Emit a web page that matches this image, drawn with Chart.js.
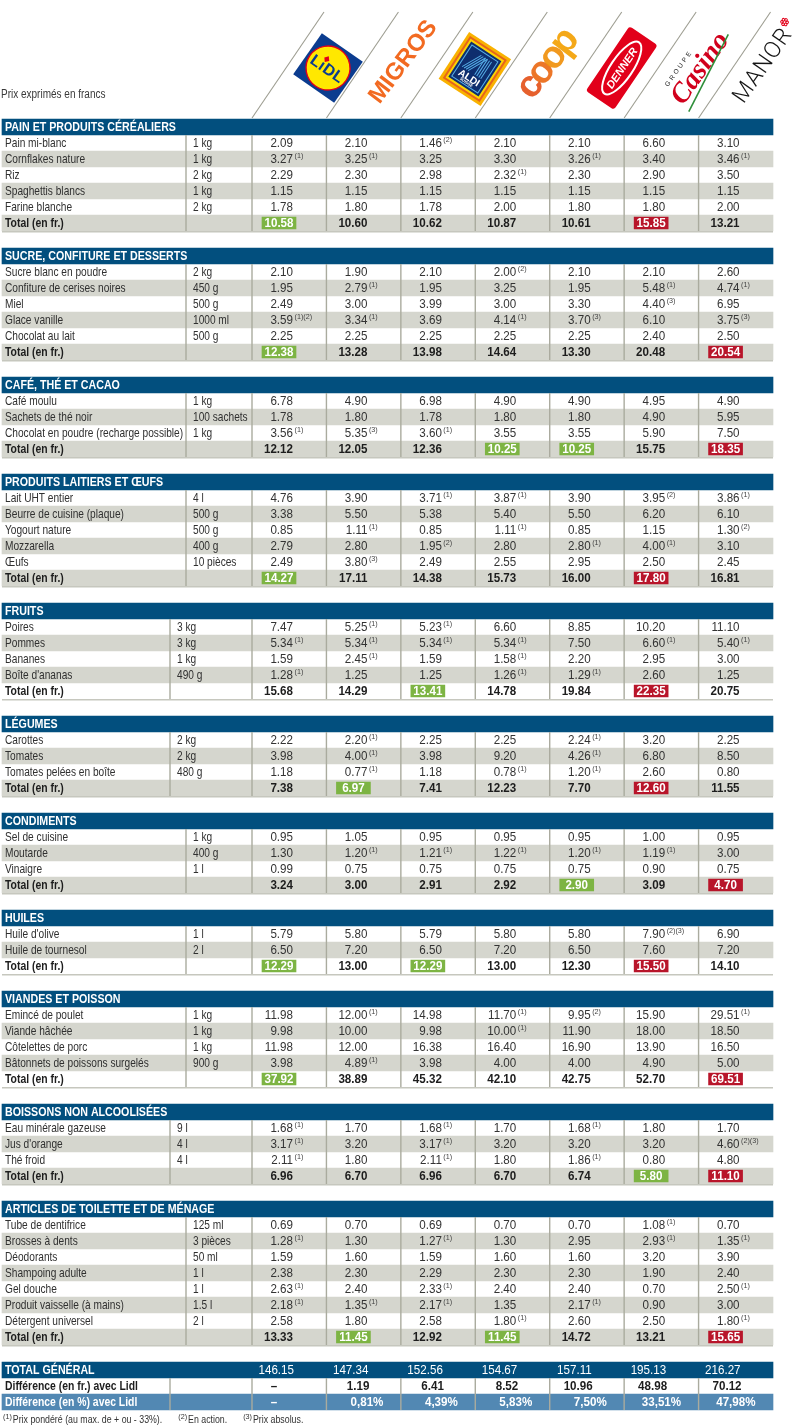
<!DOCTYPE html>
<html lang="fr">
<head>
<meta charset="utf-8">
<title>Comparatif des prix</title>
<script src="https://cdn.jsdelivr.net/npm/chart.js@4.4.1/dist/chart.umd.min.js"></script>
<style>
  html, body { margin: 0; padding: 0; background: #fff; }
  canvas { display: block; }
</style>
</head>
<body>
<canvas id="tableau" width="811" height="1427"></canvas>
<script>
// ---- données ----
const stores = ['Lidl', 'Migros', 'Aldi', 'Coop', 'Denner', 'Casino', 'Manor'];

const painItems = ['Pain mi-blanc', 'Cornflakes nature', 'Riz', 'Spaghettis blancs', 'Farine blanche'];
const painUnits = ['1 kg', '1 kg', '2 kg', '1 kg', '2 kg'];
const painPrices = [
  [2.09, 2.10, 1.46, 2.10, 2.10, 6.60, 3.10],
  [3.27, 3.25, 3.25, 3.30, 3.26, 3.40, 3.46],
  [2.29, 2.30, 2.98, 2.32, 2.30, 2.90, 3.50],
  [1.15, 1.15, 1.15, 1.15, 1.15, 1.15, 1.15],
  [1.78, 1.80, 1.78, 2.00, 1.80, 1.80, 2.00]
];
const painNotes = [
  [0, 0, 2, 0, 0, 0, 0],
  [1, 1, 0, 0, 1, 0, 1],
  [0, 0, 0, 1, 0, 0, 0],
  [0, 0, 0, 0, 0, 0, 0],
  [0, 0, 0, 0, 0, 0, 0]
];
const painTotals = [10.58, 10.60, 10.62, 10.87, 10.61, 15.85, 13.21];

const sucreItems = ['Sucre blanc en poudre', 'Confiture de cerises noires', 'Miel', 'Glace vanille', 'Chocolat au lait'];
const sucreUnits = ['2 kg', '450 g', '500 g', '1000 ml', '500 g'];
const sucrePrices = [
  [2.10, 1.90, 2.10, 2.00, 2.10, 2.10, 2.60],
  [1.95, 2.79, 1.95, 3.25, 1.95, 5.48, 4.74],
  [2.49, 3.00, 3.99, 3.00, 3.30, 4.40, 6.95],
  [3.59, 3.34, 3.69, 4.14, 3.70, 6.10, 3.75],
  [2.25, 2.25, 2.25, 2.25, 2.25, 2.40, 2.50]
];
const sucreNotes = [
  [0, 0, 0, 2, 0, 0, 0],
  [0, 1, 0, 0, 0, 1, 1],
  [0, 0, 0, 0, 0, 3, 0],
  [12, 1, 0, 1, 3, 0, 3],
  [0, 0, 0, 0, 0, 0, 0]
];
const sucreTotals = [12.38, 13.28, 13.98, 14.64, 13.30, 20.48, 20.54];

const cafeItems = ['Café moulu', 'Sachets de thé noir', 'Chocolat en poudre (recharge possible)'];
const cafeUnits = ['1 kg', '100 sachets', '1 kg'];
const cafePrices = [
  [6.78, 4.90, 6.98, 4.90, 4.90, 4.95, 4.90],
  [1.78, 1.80, 1.78, 1.80, 1.80, 4.90, 5.95],
  [3.56, 5.35, 3.60, 3.55, 3.55, 5.90, 7.50]
];
const cafeNotes = [
  [0, 0, 0, 0, 0, 0, 0],
  [0, 0, 0, 0, 0, 0, 0],
  [1, 3, 1, 0, 0, 0, 0]
];
const cafeTotals = [12.12, 12.05, 12.36, 10.25, 10.25, 15.75, 18.35];

const laitItems = ['Lait UHT entier', 'Beurre de cuisine (plaque)', 'Yogourt nature', 'Mozzarella', 'Œufs'];
const laitUnits = ['4 l', '500 g', '500 g', '400 g', '10 pièces'];
const laitPrices = [
  [4.76, 3.90, 3.71, 3.87, 3.90, 3.95, 3.86],
  [3.38, 5.50, 5.38, 5.40, 5.50, 6.20, 6.10],
  [0.85, 1.11, 0.85, 1.11, 0.85, 1.15, 1.30],
  [2.79, 2.80, 1.95, 2.80, 2.80, 4.00, 3.10],
  [2.49, 3.80, 2.49, 2.55, 2.95, 2.50, 2.45]
];
const laitNotes = [
  [0, 0, 1, 1, 0, 2, 1],
  [0, 0, 0, 0, 0, 0, 0],
  [0, 1, 0, 1, 0, 0, 2],
  [0, 0, 2, 0, 1, 1, 0],
  [0, 3, 0, 0, 0, 0, 0]
];
const laitTotals = [14.27, 17.11, 14.38, 15.73, 16.00, 17.80, 16.81];

const fruitItems = ['Poires', 'Pommes', 'Bananes', "Boîte d'ananas"];
const fruitUnits = ['3 kg', '3 kg', '1 kg', '490 g'];
const fruitPrices = [
  [7.47, 5.25, 5.23, 6.60, 8.85, 10.20, 11.10],
  [5.34, 5.34, 5.34, 5.34, 7.50, 6.60, 5.40],
  [1.59, 2.45, 1.59, 1.58, 2.20, 2.95, 3.00],
  [1.28, 1.25, 1.25, 1.26, 1.29, 2.60, 1.25]
];
const fruitNotes = [
  [0, 1, 1, 0, 0, 0, 0],
  [1, 1, 1, 1, 0, 1, 1],
  [0, 1, 0, 1, 0, 0, 0],
  [1, 0, 0, 1, 1, 0, 0]
];
const fruitTotals = [15.68, 14.29, 13.41, 14.78, 19.84, 22.35, 20.75];

const legumeItems = ['Carottes', 'Tomates', 'Tomates pelées en boîte'];
const legumeUnits = ['2 kg', '2 kg', '480 g'];
const legumePrices = [
  [2.22, 2.20, 2.25, 2.25, 2.24, 3.20, 2.25],
  [3.98, 4.00, 3.98, 9.20, 4.26, 6.80, 8.50],
  [1.18, 0.77, 1.18, 0.78, 1.20, 2.60, 0.80]
];
const legumeNotes = [
  [0, 1, 0, 0, 1, 0, 0],
  [0, 1, 0, 0, 1, 0, 0],
  [0, 1, 0, 1, 1, 0, 0]
];
const legumeTotals = [7.38, 6.97, 7.41, 12.23, 7.70, 12.60, 11.55];

const condItems = ['Sel de cuisine', 'Moutarde', 'Vinaigre'];
const condUnits = ['1 kg', '400 g', '1 l'];
const condPrices = [
  [0.95, 1.05, 0.95, 0.95, 0.95, 1.00, 0.95],
  [1.30, 1.20, 1.21, 1.22, 1.20, 1.19, 3.00],
  [0.99, 0.75, 0.75, 0.75, 0.75, 0.90, 0.75]
];
const condNotes = [
  [0, 0, 0, 0, 0, 0, 0],
  [0, 1, 1, 1, 1, 1, 0],
  [0, 0, 0, 0, 0, 0, 0]
];
const condTotals = [3.24, 3.00, 2.91, 2.92, 2.90, 3.09, 4.70];

const huileItems = ["Huile d'olive", 'Huile de tournesol'];
const huileUnits = ['1 l', '2 l'];
const huilePrices = [
  [5.79, 5.80, 5.79, 5.80, 5.80, 7.90, 6.90],
  [6.50, 7.20, 6.50, 7.20, 6.50, 7.60, 7.20]
];
const huileNotes = [
  [0, 0, 0, 0, 0, 23, 0],
  [0, 0, 0, 0, 0, 0, 0]
];
const huileTotals = [12.29, 13.00, 12.29, 13.00, 12.30, 15.50, 14.10];

const viandeItems = ['Emincé de poulet', 'Viande hâchée', 'Côtelettes de porc', 'Bâtonnets de poissons surgelés'];
const viandeUnits = ['1 kg', '1 kg', '1 kg', '900 g'];
const viandePrices = [
  [11.98, 12.00, 14.98, 11.70, 9.95, 15.90, 29.51],
  [9.98, 10.00, 9.98, 10.00, 11.90, 18.00, 18.50],
  [11.98, 12.00, 16.38, 16.40, 16.90, 13.90, 16.50],
  [3.98, 4.89, 3.98, 4.00, 4.00, 4.90, 5.00]
];
const viandeNotes = [
  [0, 1, 0, 1, 2, 0, 1],
  [0, 0, 0, 1, 0, 0, 0],
  [0, 0, 0, 0, 0, 0, 0],
  [0, 1, 0, 0, 0, 0, 0]
];
const viandeTotals = [37.92, 38.89, 45.32, 42.10, 42.75, 52.70, 69.51];

const boissonItems = ['Eau minérale gazeuse', "Jus d'orange", 'Thé froid'];
const boissonUnits = ['9 l', '4 l', '4 l'];
const boissonPrices = [
  [1.68, 1.70, 1.68, 1.70, 1.68, 1.80, 1.70],
  [3.17, 3.20, 3.17, 3.20, 3.20, 3.20, 4.60],
  [2.11, 1.80, 2.11, 1.80, 1.86, 0.80, 4.80]
];
const boissonNotes = [
  [1, 0, 1, 0, 1, 0, 0],
  [1, 0, 1, 0, 0, 0, 23],
  [1, 0, 1, 0, 1, 0, 0]
];
const boissonTotals = [6.96, 6.70, 6.96, 6.70, 6.74, 5.80, 11.10];

const toiletteItems = ['Tube de dentifrice', 'Brosses à dents', 'Déodorants', 'Shampoing adulte', 'Gel douche', 'Produit vaisselle (à mains)', 'Détergent universel'];
const toiletteUnits = ['125 ml', '3 pièces', '50 ml', '1 l', '1 l', '1.5 l', '2 l'];
const toilettePrices = [
  [0.69, 0.70, 0.69, 0.70, 0.70, 1.08, 0.70],
  [1.28, 1.30, 1.27, 1.30, 2.95, 2.93, 1.35],
  [1.59, 1.60, 1.59, 1.60, 1.60, 3.20, 3.90],
  [2.38, 2.30, 2.29, 2.30, 2.30, 1.90, 2.40],
  [2.63, 2.40, 2.33, 2.40, 2.40, 0.70, 2.50],
  [2.18, 1.35, 2.17, 1.35, 2.17, 0.90, 3.00],
  [2.58, 1.80, 2.58, 1.80, 2.60, 2.50, 1.80]
];
const toiletteNotes = [
  [0, 0, 0, 0, 0, 1, 0],
  [1, 0, 1, 0, 0, 1, 1],
  [0, 0, 0, 0, 0, 0, 0],
  [0, 0, 0, 0, 0, 0, 0],
  [1, 0, 1, 0, 0, 0, 1],
  [1, 1, 1, 0, 1, 0, 0],
  [0, 0, 0, 1, 0, 0, 1]
];
const toiletteTotals = [13.33, 11.45, 12.92, 11.45, 14.72, 13.21, 15.65];

const grandTotals = [146.15, 147.34, 152.56, 154.67, 157.11, 195.13, 216.27];
const diffFr = [null, 1.19, 6.41, 8.52, 10.96, 48.98, 70.12];
const diffPct = [null, 0.81, 4.39, 5.83, 7.50, 33.51, 47.98];

const sections = [
  { title: 'PAIN ET PRODUITS CÉRÉALIERS', items: painItems, units: painUnits, prices: painPrices, notes: painNotes, totals: painTotals },
  { title: 'SUCRE, CONFITURE ET DESSERTS', items: sucreItems, units: sucreUnits, prices: sucrePrices, notes: sucreNotes, totals: sucreTotals },
  { title: 'CAFÉ, THÉ ET CACAO', items: cafeItems, units: cafeUnits, prices: cafePrices, notes: cafeNotes, totals: cafeTotals },
  { title: 'PRODUITS LAITIERS ET ŒUFS', items: laitItems, units: laitUnits, prices: laitPrices, notes: laitNotes, totals: laitTotals },
  { title: 'FRUITS', items: fruitItems, units: fruitUnits, prices: fruitPrices, notes: fruitNotes, totals: fruitTotals },
  { title: 'LÉGUMES', items: legumeItems, units: legumeUnits, prices: legumePrices, notes: legumeNotes, totals: legumeTotals },
  { title: 'CONDIMENTS', items: condItems, units: condUnits, prices: condPrices, notes: condNotes, totals: condTotals },
  { title: 'HUILES', items: huileItems, units: huileUnits, prices: huilePrices, notes: huileNotes, totals: huileTotals },
  { title: 'VIANDES ET POISSON', items: viandeItems, units: viandeUnits, prices: viandePrices, notes: viandeNotes, totals: viandeTotals },
  { title: 'BOISSONS NON ALCOOLISÉES', items: boissonItems, units: boissonUnits, prices: boissonPrices, notes: boissonNotes, totals: boissonTotals },
  { title: 'ARTICLES DE TOILETTE ET DE MÉNAGE', items: toiletteItems, units: toiletteUnits, prices: toilettePrices, notes: toiletteNotes, totals: toiletteTotals }
];

// ---- mise en page ----
const TOP = 119, ROW_H = 16, GAP = 17;
const LEFT = 2, COL0 = 252, COL_END = 773;
const COL_W = (COL_END - COL0) / stores.length;
const labelSplit = [186, 186, 186, 186, 170, 170, 186, 186, 186, 170, 186];
const GRAND_SPLIT = 170;

const NAVY = '#024f7e', GRAY = '#d5d6ce', LIGHT_BLUE = '#5288b3';
const GREEN = '#7db443', RED = '#b8152a', LINE = '#aaab9e', BOTTOM_LINE = '#c6c7be';
const FONT = '"Liberation Sans", Arial, sans-serif';

const colLeft = c => COL0 + c * COL_W;

let cursor = TOP;
const layout = sections.map(s => {
  const head = cursor;
  const end = head + ROW_H * (s.items.length + 2);
  cursor = end + GAP;
  return { head, end };
});
const grandTop = cursor;
const rowCenter = (L, r) => L.head + ROW_H * (r + 1) + ROW_H / 2;

const headerBars = layout.map(L => ({ x: [LEFT, COL_END], y: L.head + ROW_H / 2 }));
headerBars.push({ x: [LEFT, COL_END], y: grandTop + ROW_H / 2 });
const stripeBars = [];
const greenBars = [];
const redBars = [];
sections.forEach((s, i) => {
  const L = layout[i];
  for (let r = 0; r <= s.items.length; r++) {
    if (r % 2 === 1) stripeBars.push({ x: [LEFT, COL_END], y: rowCenter(L, r) });
  }
  const lo = Math.min(...s.totals), hi = Math.max(...s.totals);
  const yt = rowCenter(L, s.items.length);
  s.totals.forEach((v, c) => {
    if (v === lo) greenBars.push({ x: [colLeft(c) + 10, colLeft(c) + 44], y: yt });
    if (v === hi) redBars.push({ x: [colLeft(c) + 10, colLeft(c) + 44], y: yt });
  });
});
const pctBar = [{ x: [LEFT, COL_END], y: grandTop + ROW_H * 2.5 }];

// ---- dessin du texte ----
function put(ctx, s, x, y, o) {
  ctx.save();
  ctx.font = (o.weight || 'normal') + ' ' + o.size + 'px ' + (o.family || FONT);
  ctx.fillStyle = o.color || '#333';
  ctx.textBaseline = 'middle';
  ctx.textAlign = o.align || 'left';
  ctx.translate(x, y);
  ctx.scale(o.sx || 1, 1);
  ctx.fillText(s, 0, 0);
  const w = ctx.measureText(s).width * (o.sx || 1);
  ctx.restore();
  return w;
}
function sup(ctx, note, x, y, color) {
  const txt = String(note).split('').map(d => '(' + d + ')').join('');
  return put(ctx, txt, x, y, { size: 8, sx: 0.9, color: color || '#444' });
}

const LABEL = { size: 13, sx: 0.78, color: '#303030' };
const LABEL_BOLD = { size: 13, sx: 0.8, weight: 'bold', color: '#1d1d1d' };
const NUM = { size: 13.5, sx: 0.86, color: '#333' };
const NUM_BOLD = { size: 13.5, sx: 0.86, weight: 'bold', color: '#1d1d1d' };

function drawLogos(ctx, px, py) {
  const rad = d => d * Math.PI / 180;
  ctx.save();
  ctx.strokeStyle = '#9d9d91';
  ctx.lineWidth = 1.1;
  stores.forEach((s, c) => {
    ctx.beginPath();
    ctx.moveTo(px(colLeft(c)), py(118));
    ctx.lineTo(px(colLeft(c) + 72), py(12));
    ctx.stroke();
  });
  ctx.restore();

  const at = (c, dx, dy, ang, fn) => {
    ctx.save();
    ctx.translate(px(colLeft(c) + 74 + dx), py(66 + dy));
    ctx.rotate(rad(ang));
    ctx.textAlign = 'center';
    ctx.textBaseline = 'middle';
    fn();
    ctx.restore();
  };

  // Lidl
  at(0, 2, 2, 35, () => {
    ctx.fillStyle = '#0b3c8f';
    ctx.fillRect(-25, -25, 50, 50);
    ctx.beginPath();
    ctx.arc(0, 0, 22, 0, Math.PI * 2);
    ctx.fillStyle = '#ffe800';
    ctx.fill();
    ctx.lineWidth = 1.4;
    ctx.strokeStyle = '#e2001a';
    ctx.stroke();
    ctx.font = 'bold 16px ' + FONT;
    const letters = ['L', 'ı', 'D', 'L'];
    const ws = letters.map(l => ctx.measureText(l).width + 0.5);
    let xx = -ws.reduce((a, b) => a + b, 0) / 2;
    ctx.textAlign = 'left';
    letters.forEach((l, k) => {
      ctx.fillStyle = '#0b3c8f';
      ctx.fillText(l, xx, 2);
      if (k === 1) {
        const cx = xx + ws[k] / 2;
        ctx.fillStyle = '#e2001a';
        ctx.beginPath();
        ctx.moveTo(cx, -10); ctx.lineTo(cx + 3, -6.5); ctx.lineTo(cx, -3); ctx.lineTo(cx - 3, -6.5);
        ctx.closePath();
        ctx.fill();
      }
      xx += ws[k];
    });
  });

  // Migros
  at(1, 3, -4, -53, () => {
    ctx.font = 'bold 24px ' + FONT;
    ctx.fillStyle = '#f26a21';
    ctx.fillText('MIGROS', 0, 0);
  });

  // Aldi
  at(2, 0, 3, 33, () => {
    ctx.fillStyle = '#f9b200'; ctx.fillRect(-25, -28, 50, 56);
    ctx.fillStyle = '#e6641c'; ctx.fillRect(-22, -25, 44, 50);
    ctx.fillStyle = '#fdd400'; ctx.fillRect(-20, -23, 40, 46);
    ctx.fillStyle = '#0e2e6e'; ctx.fillRect(-18, -21, 36, 42);
    ctx.strokeStyle = '#56aee6';
    ctx.lineWidth = 1;
    ctx.strokeRect(-15.5, -18.5, 31, 37);
    for (let k = 0; k < 4; k++) {
      ctx.beginPath();
      ctx.moveTo(-12 + k * 2.4, 5);
      ctx.lineTo(-2 + k * 2.4, -15);
      ctx.moveTo(3 + k * 2.4, -15);
      ctx.lineTo(3 + k * 2.4, 5);
      ctx.stroke();
    }
    ctx.font = 'bold 10px ' + FONT;
    ctx.fillStyle = '#fff';
    ctx.fillText('ALDI', 0, 11);
    ctx.font = 'bold 4px ' + FONT;
    ctx.fillText('SUISSE', 0, 16);
  });

  // Coop
  at(3, 0, 1, -52, () => {
    ctx.font = 'bold 38px ' + FONT;
    const letters = ['c', 'o', 'o', 'p'];
    const colors = ['#e4521b', '#ea6a16', '#f0900c', '#f3a104'];
    const ws = letters.map(l => ctx.measureText(l).width - 4);
    let xx = -ws.reduce((a, b) => a + b, 0) / 2;
    ctx.textAlign = 'left';
    ctx.globalAlpha = 0.92;
    letters.forEach((l, k) => {
      ctx.fillStyle = colors[k];
      ctx.fillText(l, xx, -3);
      xx += ws[k];
    });
    ctx.globalAlpha = 1;
  });

  // Denner
  at(4, -2, 2, -56, () => {
    ctx.fillStyle = '#e2001a';
    ctx.beginPath();
    ctx.roundRect(-39, -17, 78, 34, 3);
    ctx.fill();
    ctx.strokeStyle = '#fff';
    ctx.lineWidth = 2;
    ctx.beginPath();
    ctx.ellipse(0, 0, 31, 11, 0, 0, Math.PI * 2);
    ctx.stroke();
    ctx.font = 'bold italic 11px ' + FONT;
    ctx.fillStyle = '#fff';
    ctx.fillText('DENNER', 0, 1);
  });

  // Casino
  at(5, 0, 1, -55, () => {
    ctx.font = 'bold italic 28px "Liberation Serif", serif';
    ctx.fillStyle = '#d1001c';
    ctx.fillText('Casino', 0, 3);
    ctx.font = '6.5px ' + FONT;
    ctx.fillStyle = '#222';
    ctx.letterSpacing = '2.5px';
    ctx.fillText('GROUPE', -12, -15);
    ctx.letterSpacing = '0px';
    ctx.strokeStyle = '#2f8f3a';
    ctx.lineWidth = 1.6;
    ctx.beginPath();
    ctx.moveTo(-42, 18);
    ctx.quadraticCurveTo(0, 12, 44, 6);
    ctx.stroke();
  });

  // Manor
  at(6, -9, 0, -55, () => {
    ctx.font = '300 23px Roboto, ' + FONT;
    ctx.fillStyle = '#151515';
    ctx.letterSpacing = '1px';
    ctx.fillText('MANOR', 0, 0);
    ctx.letterSpacing = '0px';
    ctx.strokeStyle = '#e2001a';
    ctx.lineWidth = 1;
    for (let k = 0; k < 6; k++) {
      const a = k * Math.PI / 3;
      ctx.beginPath();
      ctx.arc(48 + Math.cos(a) * 2.6, -8 + Math.sin(a) * 2.6, 1.3, 0, Math.PI * 2);
      ctx.stroke();
    }
  });
}

const tablePlugin = {
  id: 'tableau',
  afterDatasetsDraw(chart) {
    const { ctx, scales } = chart;
    const px = v => scales.x.getPixelForValue(v);
    const py = v => scales.y.getPixelForValue(v);

    drawLogos(ctx, px, py);
    put(ctx, 'Prix exprimés en francs', px(1), py(95), { size: 12.5, sx: 0.8, color: '#3a3a3a' });

    const separators = (split, y0, y1) => {
      ctx.save();
      ctx.strokeStyle = LINE;
      ctx.lineWidth = 1.4;
      [split, COL0].concat(stores.slice(1).map((s, c) => colLeft(c + 1))).forEach(xv => {
        ctx.beginPath();
        ctx.moveTo(px(xv), py(y0));
        ctx.lineTo(px(xv), py(y1));
        ctx.stroke();
      });
      ctx.restore();
    };

    sections.forEach((s, i) => {
      const L = layout[i];
      const split = labelSplit[i];
      separators(split, L.head + ROW_H, L.end);
      ctx.save();
      ctx.strokeStyle = BOTTOM_LINE;
      ctx.lineWidth = 1.5;
      ctx.beginPath();
      ctx.moveTo(px(LEFT), py(L.end + 0.75));
      ctx.lineTo(px(COL_END), py(L.end + 0.75));
      ctx.stroke();
      ctx.restore();

      put(ctx, s.title, px(5), py(L.head + ROW_H / 2 + 0.5), { size: 13, weight: 'bold', sx: 0.82, color: '#fff' });

      s.items.forEach((item, r) => {
        const yc = py(rowCenter(L, r) + 0.5);
        put(ctx, item, px(5), yc, LABEL);
        put(ctx, s.units[r], px(split + 7), yc, LABEL);
        s.prices[r].forEach((v, c) => {
          const xr = px(colLeft(c) + 41);
          put(ctx, v.toFixed(2), xr, yc, Object.assign({}, NUM, { align: 'right' }));
          if (s.notes[r][c]) sup(ctx, s.notes[r][c], xr + 1.5, yc - 4);
        });
      });

      const yt = py(rowCenter(L, s.items.length) + 0.5);
      put(ctx, 'Total (en fr.)', px(5), yt, LABEL_BOLD);
      const lo = Math.min(...s.totals), hi = Math.max(...s.totals);
      s.totals.forEach((v, c) => {
        if (v === lo || v === hi) {
          put(ctx, v.toFixed(2), px(colLeft(c) + 27), yt, Object.assign({}, NUM_BOLD, { align: 'center', color: '#fff' }));
        } else {
          put(ctx, v.toFixed(2), px(colLeft(c) + 41), yt, Object.assign({}, NUM_BOLD, { align: 'right' }));
        }
      });
    });

    // total général
    const g = grandTop;
    separators(GRAND_SPLIT, g + ROW_H, g + ROW_H * 3);
    put(ctx, 'TOTAL GÉNÉRAL', px(5), py(g + ROW_H / 2 + 0.5), { size: 13, weight: 'bold', sx: 0.82, color: '#fff' });
    grandTotals.forEach((v, c) => {
      put(ctx, v.toFixed(2), px(colLeft(c) + 42), py(g + ROW_H / 2 + 0.5), Object.assign({}, NUM, { align: 'right', color: '#fff' }));
    });
    const y2 = py(g + ROW_H * 1.5 + 0.5);
    put(ctx, 'Différence (en fr.) avec Lidl', px(5), y2, LABEL_BOLD);
    diffFr.forEach((v, c) => {
      if (v === null) put(ctx, '–', px(colLeft(c) + 22), y2, Object.assign({}, NUM_BOLD, { align: 'center' }));
      else put(ctx, v.toFixed(2), px(colLeft(c) + 43), y2, Object.assign({}, NUM_BOLD, { align: 'right' }));
    });
    const y3 = py(g + ROW_H * 2.5 + 0.5);
    put(ctx, 'Différence (en %) avec Lidl', px(5), y3, Object.assign({}, LABEL_BOLD, { color: '#fff' }));
    diffPct.forEach((v, c) => {
      if (v === null) put(ctx, '–', px(colLeft(c) + 22), y3, Object.assign({}, NUM_BOLD, { align: 'center', color: '#fff' }));
      else put(ctx, v.toFixed(2).replace('.', ',') + '%', px(colLeft(c) + 57), y3, Object.assign({}, NUM_BOLD, { align: 'right', color: '#fff' }));
    });

    // notes
    const yf = py(g + ROW_H * 3 + 10);
    const NOTE = { size: 11, sx: 0.8, color: '#333' };
    let xf = px(3);
    xf += sup(ctx, 1, xf, yf - 3, '#333') + 1;
    xf += put(ctx, 'Prix pondéré (au max. de + ou - 33%).', xf, yf, NOTE) + 16;
    xf += sup(ctx, 2, xf, yf - 3, '#333') + 1;
    xf += put(ctx, 'En action.', xf, yf, NOTE) + 16;
    xf += sup(ctx, 3, xf, yf - 3, '#333') + 1;
    put(ctx, 'Prix absolus.', xf, yf, NOTE);
  }
};

new Chart(document.getElementById('tableau'), {
  type: 'bar',
  data: {
    datasets: [
      { label: 'Rubriques', data: headerBars, backgroundColor: NAVY, barThickness: ROW_H, grouped: false, order: 2 },
      { label: 'Lignes alternées', data: stripeBars, backgroundColor: GRAY, barThickness: ROW_H, grouped: false, order: 2 },
      { label: 'Différence en %', data: pctBar, backgroundColor: LIGHT_BLUE, barThickness: ROW_H, grouped: false, order: 2 },
      { label: 'Le moins cher', data: greenBars, backgroundColor: GREEN, barThickness: 12, grouped: false, order: 0 },
      { label: 'Le plus cher', data: redBars, backgroundColor: RED, barThickness: 12, grouped: false, order: 0 }
    ]
  },
  options: {
    indexAxis: 'y',
    responsive: false,
    animation: false,
    events: [],
    layout: { padding: 0 },
    scales: {
      x: { type: 'linear', min: 0, max: 811, offset: false, display: false },
      y: { type: 'linear', min: 0, max: 1427, reverse: true, offset: false, display: false }
    },
    plugins: {
      legend: { display: false },
      tooltip: { enabled: false }
    }
  },
  plugins: [tablePlugin]
});
</script>
</body>
</html>
